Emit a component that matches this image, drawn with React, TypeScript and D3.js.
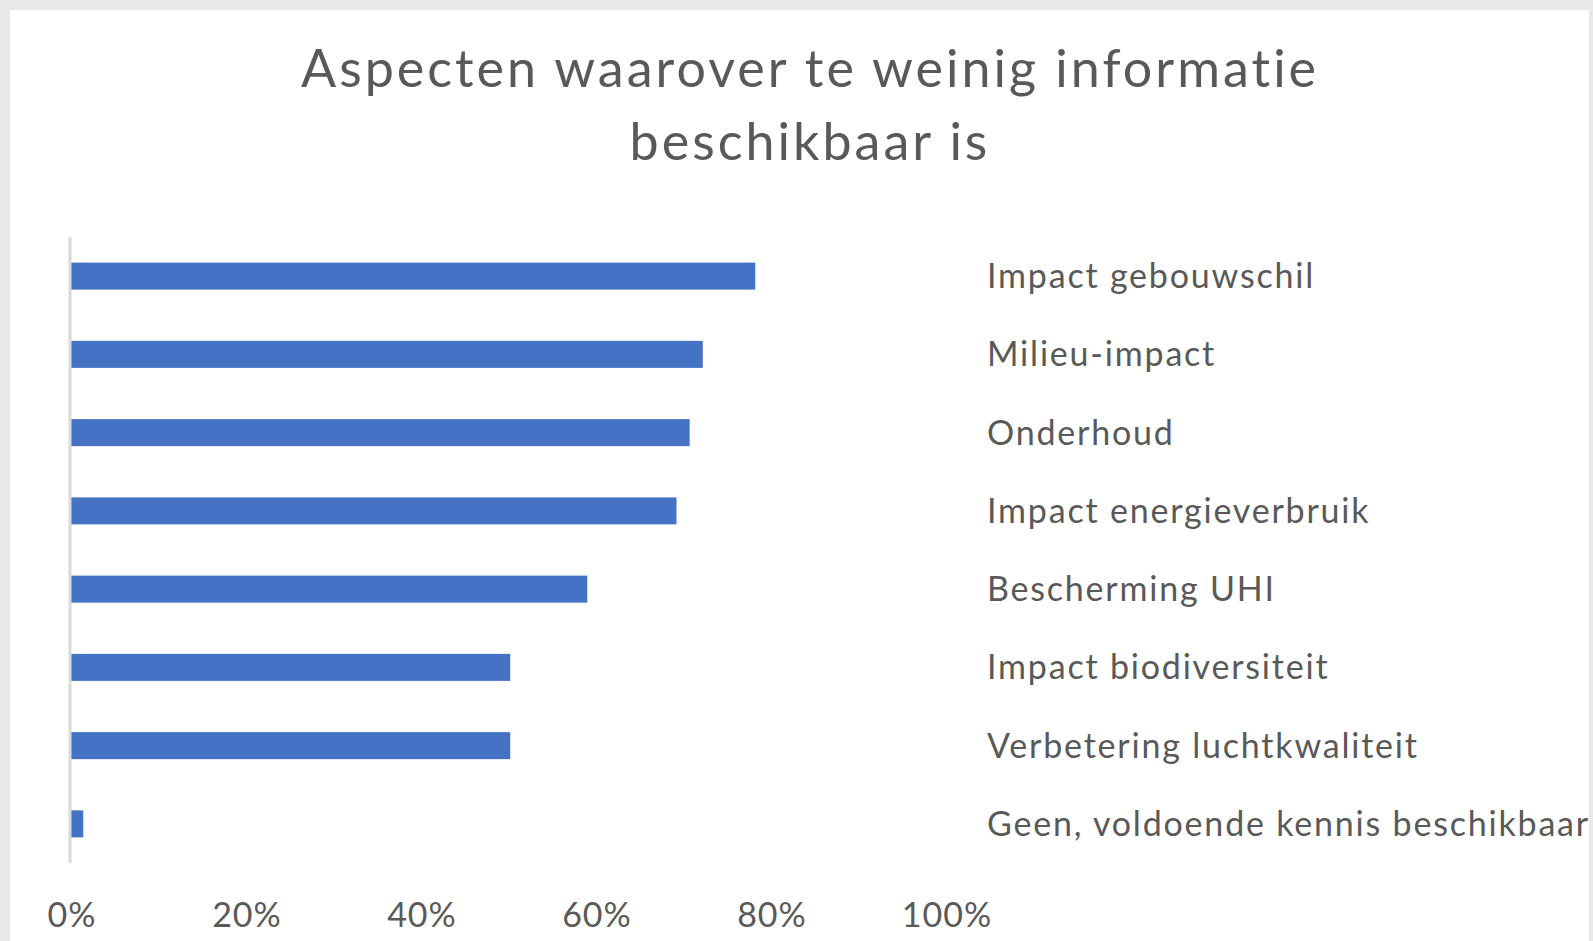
import React from "react";
import * as d3 from "d3";

const categories = [
  "Impact gebouwschil",
  "Milieu-impact",
  "Onderhoud",
  "Impact energieverbruik",
  "Bescherming UHI",
  "Impact biodiversiteit",
  "Verbetering luchtkwaliteit",
  "Geen, voldoende kennis beschikbaar",
];
const values = [0.782, 0.722, 0.707, 0.692, 0.59, 0.502, 0.502, 0.014];
const tickValues = [0, 0.2, 0.4, 0.6, 0.8, 1];
const titleLines = ["Aspecten waarover te weinig informatie", "beschikbaar is"];

export default function App() {
  const width = 1593;
  const height = 941;
  const font = "Lato, 'Open Sans', sans-serif";
  const textColor = "#595959";

  const x = d3.scaleLinear().domain([0, 1]).range([71, 946]);
  const y = d3
    .scaleBand()
    .domain(categories)
    .range([237, 863])
    .paddingInner(0.655)
    .paddingOuter(0.3275);
  const fmt = d3.format(".0%");

  return (
    <svg
      width={width}
      height={height}
      style={{ position: "absolute", left: 0, top: 0 }}
    >
      <rect x={0} y={0} width={width} height={height} fill="#e8e8e8" />
      <rect x={10} y={10} width={1579} height={height - 10} fill="#ffffff" />

      {/* title */}
      {titleLines.map((t, i) => (
        <text
          key={t}
          x={810}
          y={87 + i * 73}
          textAnchor="middle"
          fontFamily={font}
          fontSize={52}
          letterSpacing={3}
          fill={textColor}
        >
          {t}
        </text>
      ))}

      {/* bars */}
      {categories.map((c, i) => (
        <rect
          key={c}
          x={x(0)}
          y={y(c)}
          width={x(values[i]) - x(0)}
          height={y.bandwidth()}
          fill="#4472c4"
        />
      ))}

      {/* axis line */}
      <line x1={70} x2={70} y1={237} y2={863} stroke="#d9d9d9" strokeWidth={3} />

      {/* category labels */}
      {categories.map((c) => (
        <text
          key={c}
          x={987}
          y={y(c)! + y.bandwidth() / 2}
          dy="0.35em"
          fontFamily={font}
          fontSize={34}
          letterSpacing={1.8}
          fill={textColor}
        >
          {c}
        </text>
      ))}

      {/* x tick labels */}
      {tickValues.map((v) => (
        <text
          key={v}
          x={x(v) + 1}
          y={927}
          textAnchor="middle"
          fontFamily={font}
          fontSize={34}
          letterSpacing={1}
          fill={textColor}
        >
          {fmt(v)}
        </text>
      ))}

      {/* right border strip clips overflowing label */}
      <rect x={1589} y={0} width={width - 1589} height={height} fill="#e8e8e8" />
    </svg>
  );
}
